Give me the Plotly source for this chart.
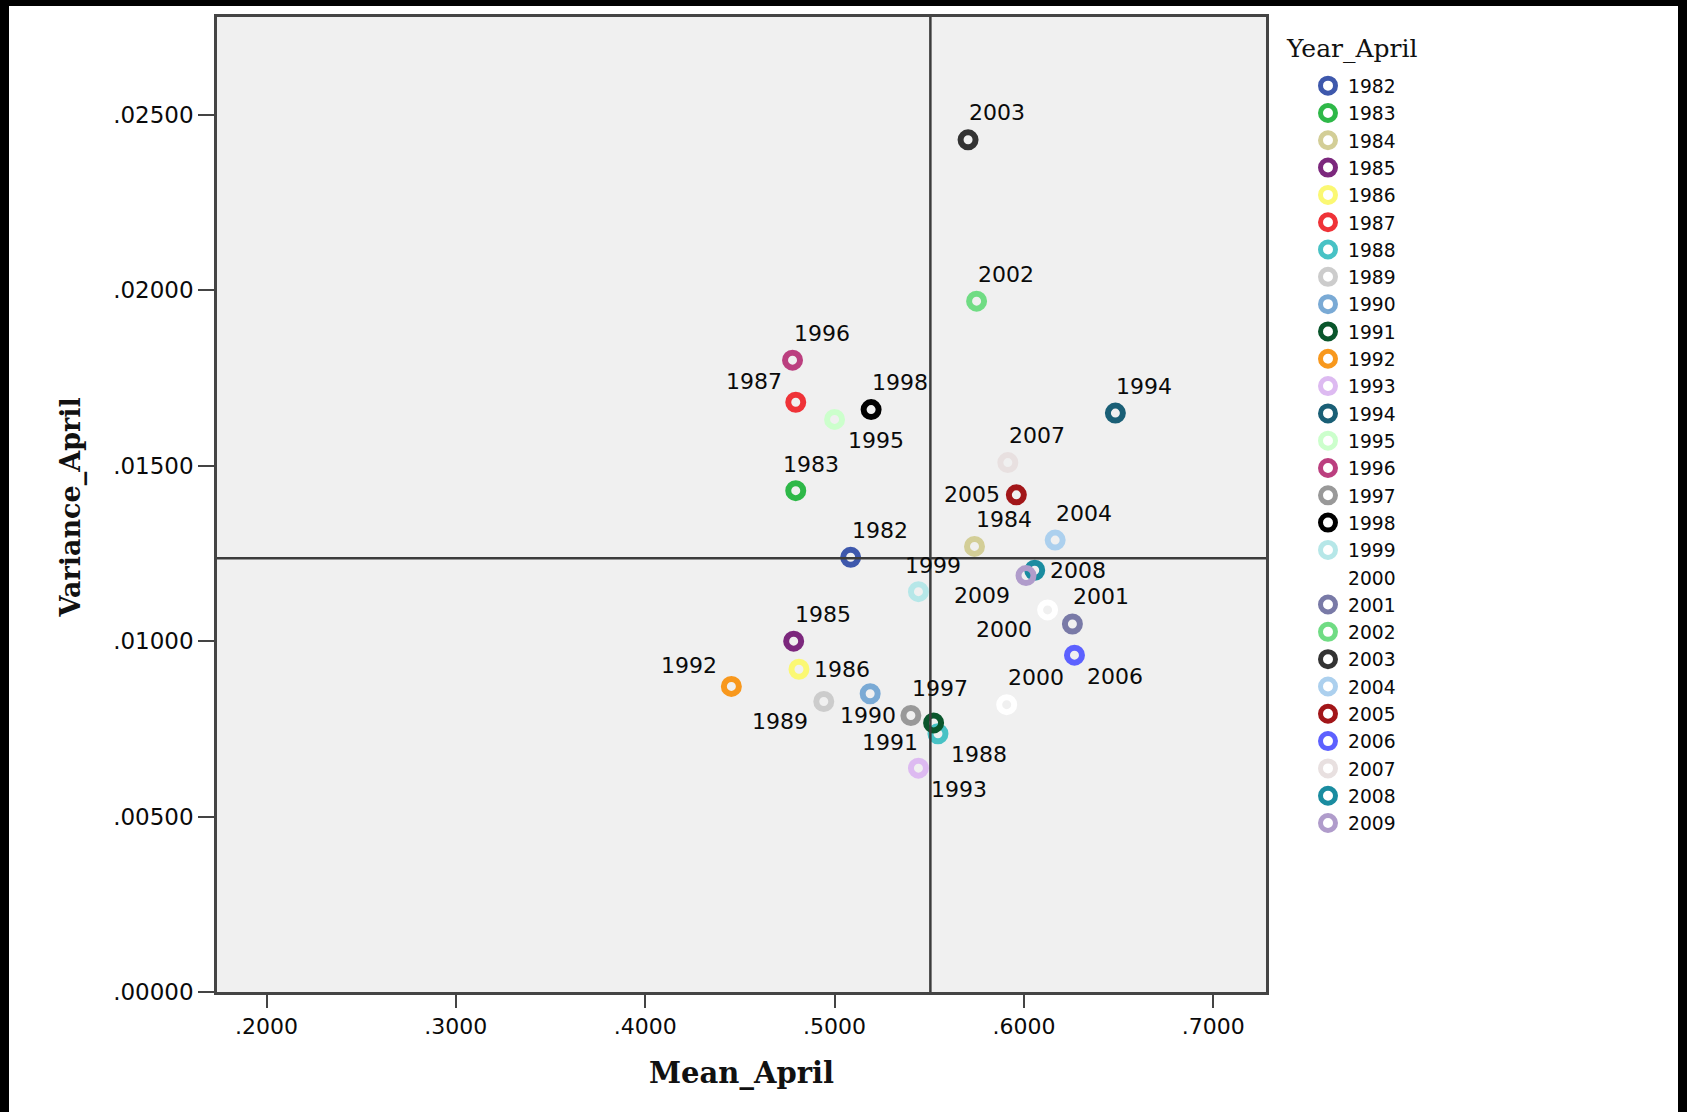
import plotly.graph_objects as go

# ---------------- data ----------------
point_years = ["1982", "1983", "1984", "1985", "1986", "1987", "1988", "1989", "1990",
               "1991", "1992", "1993", "1994", "1995", "1996", "1997", "1998", "1999",
               "2000", "2000", "2001", "2002", "2003", "2004", "2005", "2006", "2007",
               "2008", "2009"]
mean_april = [0.5085, 0.4795, 0.5739, 0.4784, 0.4812, 0.4795, 0.5546, 0.4943, 0.5188,
              0.5523, 0.4455, 0.5443, 0.6483, 0.5000, 0.4778, 0.5403, 0.5193, 0.5443,
              0.6125, 0.5909, 0.6256, 0.5750, 0.5705, 0.6165, 0.5960, 0.6267, 0.5915,
              0.6057, 0.6011]
variance_april = [0.01239, 0.01429, 0.01270, 0.01000, 0.00920, 0.01681, 0.00736, 0.00828,
                  0.00850, 0.00767, 0.00871, 0.00638, 0.01650, 0.01632, 0.01801, 0.00788,
                  0.01660, 0.01141, 0.01089, 0.00819, 0.01049, 0.01969, 0.02429, 0.01288,
                  0.01417, 0.00960, 0.01509, 0.01202, 0.01187]
# label placement around each point (tr=top right, tc=top, tl=top left, r=right,
# l=left, br=bottom right, bc=bottom, bl=bottom left)
label_pos = ["tr", "tc", "tr", "tr", "r", "tl", "br", "bl", "bc",
             "bl", "tl", "br", "tr", "br", "tr", "tr", "tr", "tc",
             "bl", "tr", "tr", "tr", "tr", "tr", "l", "br", "tr",
             "r", "bl"]

legend_years = ["1982", "1983", "1984", "1985", "1986", "1987", "1988", "1989", "1990",
                "1991", "1992", "1993", "1994", "1995", "1996", "1997", "1998", "1999",
                "2000", "2001", "2002", "2003", "2004", "2005", "2006", "2007", "2008",
                "2009"]
year_colors = ["#3E58AC", "#2EB848", "#D3CE97", "#7C287D", "#FBF873", "#EF3338", "#48C2C5",
               "#CCCCCC", "#7AAAD5", "#0A562C", "#F8981D", "#DDBAF1", "#1A5F76", "#CCFFCC",
               "#BB3F7F", "#999999", "#000000", "#B6E7E8", "#FFFFFF", "#797AA7", "#70DC84",
               "#333333", "#ACD0EE", "#A21619", "#5D61FF", "#E8E0E0", "#1A8CA0", "#B09CCB"]

x_tickvals = [0.2, 0.3, 0.4, 0.5, 0.6, 0.7]
x_ticktext = [".2000", ".3000", ".4000", ".5000", ".6000", ".7000"]
y_tickvals = [0.0, 0.005, 0.010, 0.015, 0.020, 0.025]
y_ticktext = [".00000", ".00500", ".01000", ".01500", ".02000", ".02500"]

x_range = [0.17386, 0.72784]
y_range = [0.0, 0.02779]
ref_line_x = 0.5506   # vertical reference line (Mean_April)
ref_line_y = 0.01236  # horizontal reference line (Variance_April)

x_title = "Mean_April"
y_title = "Variance_April"
legend_title = "Year_April"

# ---------------- styling ----------------
W, H = 1687, 1112
ML, MR, MT, MB = 217, 421, 17, 120
PW, PH = W - ML - MR, H - MT - MB

shift_map = {
    "tr": (29, 27), "tc": (15, 26), "tl": (-42, 21), "r": (43, 0), "l": (-44, 0),
    "br": (41, -21), "bc": (-2, -22), "bl": (-44, -20),
}

fig = go.Figure()

for yr, col in zip(legend_years, year_colors):
    xs = [m for m, py in zip(mean_april, point_years) if py == yr]
    ys = [v for v, py in zip(variance_april, point_years) if py == yr]
    fig.add_trace(go.Scatter(
        x=xs, y=ys, mode="markers", name=yr,
        marker=dict(symbol="circle-open", size=15, color=col,
                    line=dict(width=6, color=col)),
        cliponaxis=False,
    ))

annotations = []
for m, v, py, lp in zip(mean_april, variance_april, point_years, label_pos):
    dx, dy = shift_map[lp]
    annotations.append(dict(
        x=m, y=v, xref="x", yref="y", text=py, showarrow=False,
        xanchor="center", yanchor="middle", xshift=dx, yshift=dy,
        font=dict(family="DejaVu Sans", size=22, color="#0a0a0a"),
    ))

# axis titles and legend title
annotations.append(dict(
    x=0.5, y=0, xref="paper", yref="paper", text=x_title, showarrow=False,
    xanchor="center", yanchor="middle", yshift=-81,
    font=dict(family="DejaVu Serif", size=29, color="#111111", weight="bold"),
))
annotations.append(dict(
    x=0, y=0.5, xref="paper", yref="paper", text=y_title, showarrow=False,
    xanchor="center", yanchor="middle", xshift=-(ML - 70), yshift=-3, textangle=-90,
    font=dict(family="DejaVu Serif", size=27, color="#111111", weight="bold"),
))
annotations.append(dict(
    x=(1284 - ML) / PW, y=(MT + PH - 48) / PH, xref="paper", yref="paper",
    text=legend_title, showarrow=False, xanchor="left", yanchor="middle",
    font=dict(family="DejaVu Serif", size=25, color="#111111"),
))

shapes = [
    dict(type="line", xref="x", yref="paper", x0=ref_line_x, x1=ref_line_x, y0=0, y1=1,
         line=dict(color="#3c3c3c", width=2.5), layer="above"),
    dict(type="line", xref="paper", yref="y", x0=0, x1=1, y0=ref_line_y, y1=ref_line_y,
         line=dict(color="#3c3c3c", width=2.5), layer="above"),
]

# black screenshot bands around the page edges
def px_x(p):
    return (p - ML) / PW

def px_y(p):
    return (MT + PH - p) / PH

band = dict(type="rect", xref="paper", yref="paper", fillcolor="black",
            line=dict(width=0), layer="above")
shapes.append(dict(band, x0=px_x(0), x1=px_x(9), y0=px_y(H), y1=px_y(0)))
shapes.append(dict(band, x0=px_x(0), x1=px_x(W), y0=px_y(6), y1=px_y(0)))
shapes.append(dict(band, x0=px_x(1678), x1=px_x(W), y0=px_y(H), y1=px_y(0)))

axis_common = dict(
    showgrid=False, zeroline=False, showline=True, mirror=True,
    linecolor="#444444", linewidth=2.5, ticks="outside", tickcolor="#444444",
    tickwidth=2, tickfont=dict(family="DejaVu Sans", size=22, color="#0a0a0a"),
)

fig.update_layout(
    width=W, height=H, autosize=False,
    margin=dict(l=ML, r=MR, t=MT, b=MB, pad=0),
    paper_bgcolor="white", plot_bgcolor="#F0F0F0",
    xaxis=dict(axis_common, range=x_range, tickvals=x_tickvals, ticktext=x_ticktext,
               ticklen=13),
    yaxis=dict(axis_common, range=y_range, tickvals=y_tickvals, ticktext=y_ticktext,
               ticklen=16, tickfont=dict(family="DejaVu Sans", size=23, color="#0a0a0a")),
    showlegend=True,
    legend=dict(x=(1308 - ML) / PW, y=(MT + PH - 67) / PH, xanchor="left", yanchor="top",
                font=dict(family="DejaVu Sans", size=18.7, color="#0a0a0a"),
                bgcolor="rgba(0,0,0,0)", borderwidth=0, itemsizing="trace"),
    annotations=annotations,
    shapes=shapes,
)

fig.write_html("out.html",
               config={"displayModeBar": False},
               post_script="document.body.style.margin='0';document.body.style.overflow='hidden';")
